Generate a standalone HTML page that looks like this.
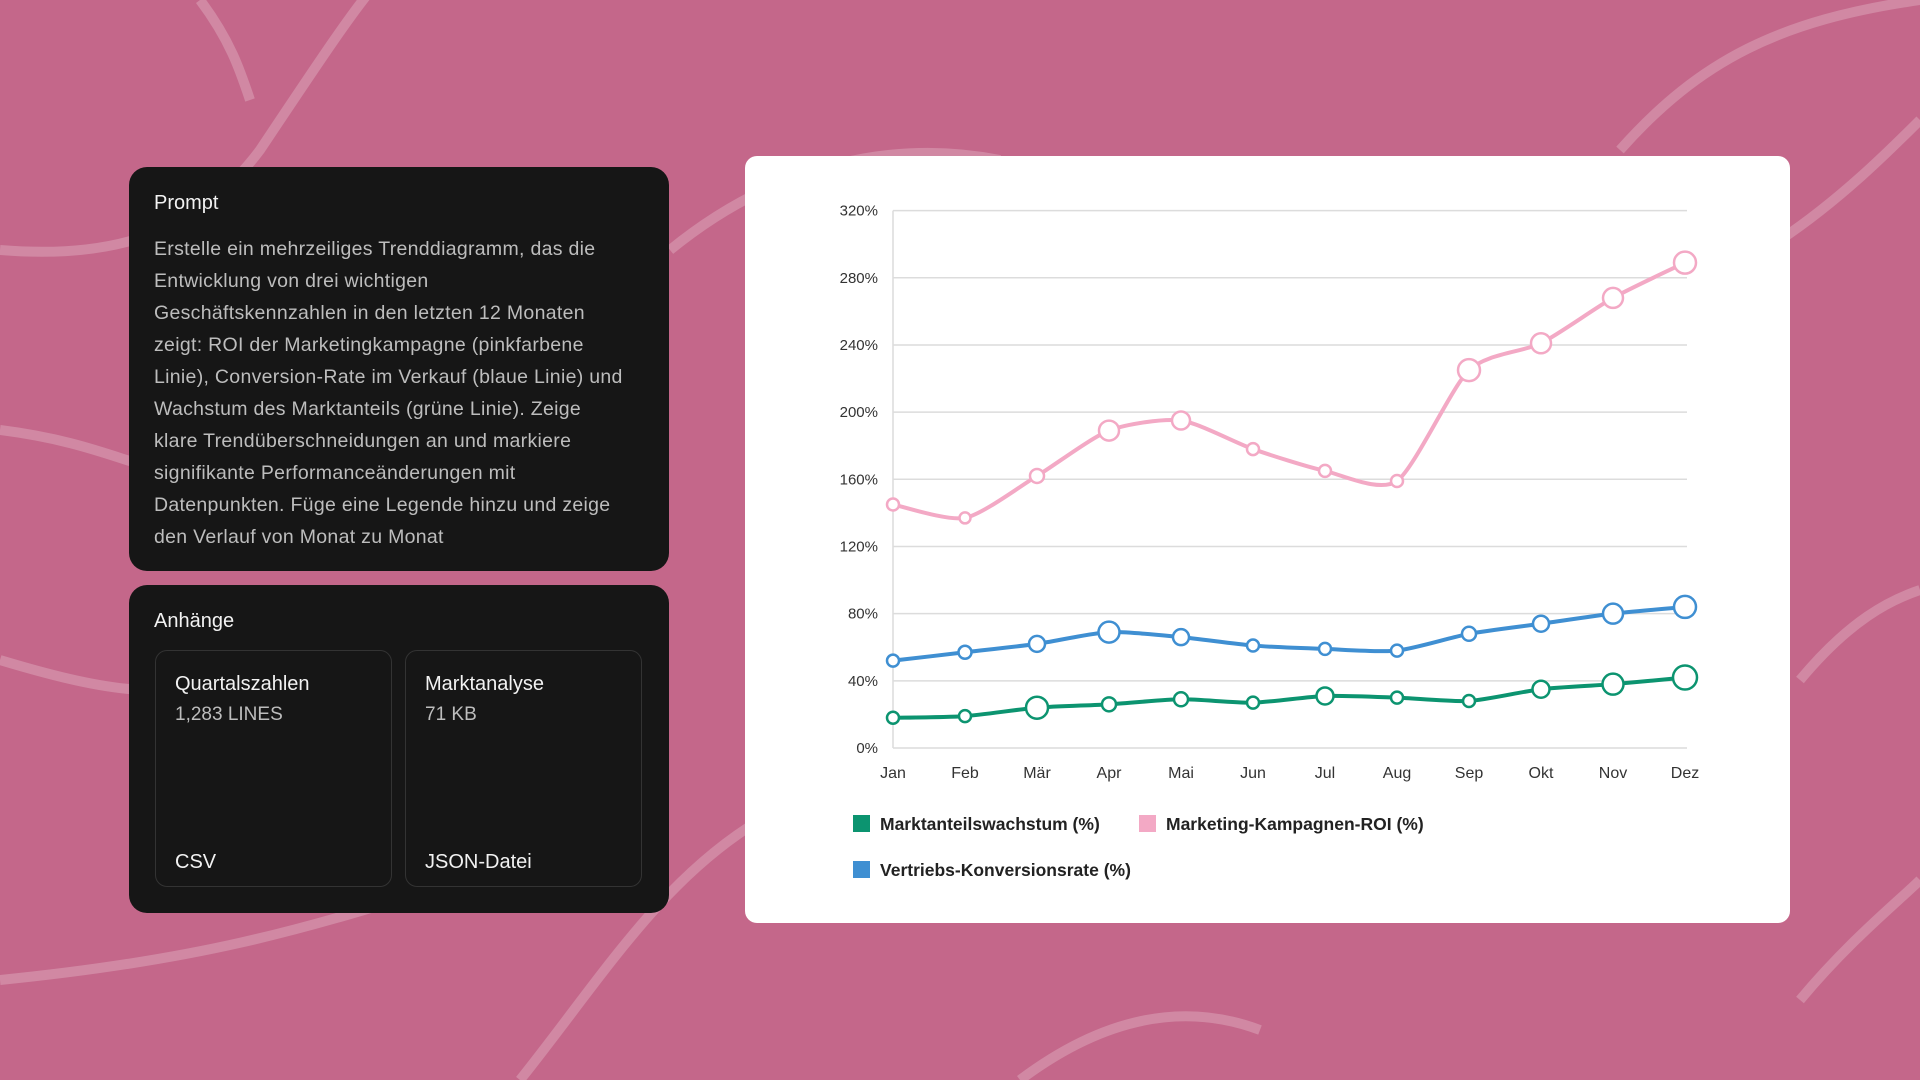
<!DOCTYPE html>
<html><head><meta charset="utf-8"><style>
*{margin:0;padding:0;box-sizing:border-box}
body{width:1920px;height:1080px;background:#c4678a;font-family:"Liberation Sans",sans-serif;position:relative;overflow:hidden}
.card{position:absolute;background:#161616;border-radius:18px;color:#fff}
.title{position:absolute;left:25px;font-size:20px;color:#f2f2f2}
.body{position:absolute;left:25px;top:66px;width:500px;font-size:19.5px;line-height:32px;color:#bdbdbd;letter-spacing:0.3px;white-space:nowrap}
.att{position:absolute;top:65px;width:237px;height:237px;border:1px solid #333;border-radius:12px}
.att .n{position:absolute;left:19px;top:22px;font-size:20px;color:#f2f2f2}
.att .s{position:absolute;left:19px;top:53px;font-size:19px;color:#bdbdbd}
.att .t{position:absolute;left:19px;bottom:12px;font-size:20px;color:#f2f2f2}
#chart{position:absolute;left:745px;top:156px;width:1045px;height:767px;background:#fff;border-radius:12px}
</style></head><body>
<svg style="position:absolute;left:0;top:0" width="1920" height="1080">
<g fill="none" stroke="rgba(255,255,255,0.22)" stroke-width="10">
<path d="M0 250 C120 260 200 230 260 150 C320 60 360 0 380 -20"/>
<path d="M520 1080 C600 980 660 880 760 820 C880 760 980 830 1100 900"/>
<path d="M670 250 C780 160 900 140 1000 160"/>
<path d="M1620 150 C1700 60 1780 20 1920 0"/>
<path d="M1780 240 C1840 200 1890 150 1920 120"/>
<path d="M0 660 C100 690 160 700 230 680"/>
<path d="M0 430 C80 440 120 460 160 470"/>
<path d="M0 980 C200 960 300 930 430 890"/>
<path d="M1020 1080 C1100 1020 1180 1000 1260 1030"/>
<path d="M1800 680 C1850 620 1890 600 1920 590"/>
<path d="M1800 1000 C1850 940 1900 900 1920 880"/>
<path d="M200 0 C230 40 240 70 250 100"/>
</g></svg>

<div class="card" style="left:129px;top:167px;width:540px;height:404px">
<div class="title" style="top:25px">Prompt</div>
<div class="body">Erstelle ein mehrzeiliges Trenddiagramm, das die<br>Entwicklung von drei wichtigen<br>Geschäftskennzahlen in den letzten 12 Monaten<br>zeigt: ROI der Marketingkampagne (pinkfarbene<br>Linie), Conversion-Rate im Verkauf (blaue Linie) und<br>Wachstum des Marktanteils (grüne Linie). Zeige<br>klare Trendüberschneidungen an und markiere<br>signifikante Performanceänderungen mit<br>Datenpunkten. Füge eine Legende hinzu und zeige<br>den Verlauf von Monat zu Monat</div>
</div>

<div class="card" style="left:129px;top:585px;width:540px;height:328px">
<div class="title" style="top:25px">Anhänge</div>
<div class="att" style="left:26px">
<div class="n">Quartalszahlen</div><div class="s">1,283 LINES</div><div class="t">CSV</div></div>
<div class="att" style="left:276px">
<div class="n">Marktanalyse</div><div class="s">71 KB</div><div class="t">JSON-Datei</div></div>
</div>

<div id="chart">
<svg id="svg" width="1045" height="767"></svg>
</div>

<script>
const months=["Jan","Feb","Mär","Apr","Mai","Jun","Jul","Aug","Sep","Okt","Nov","Dez"];
const roiValues=[145,137,162,189,195,178,165,159,225,241,268,289];
const conversionValues=[52,57,62,69,66,61,59,58,68,74,80,84];
const marketValues=[18,19,24,26,29,27,31,30,28,35,38,42];
const roiMarkers=[6,5.5,7,10,9,6,6,6,11,10,10,11];
const conversionMarkers=[6,6.5,8,10.5,8,6,6,6,7,8,10,11];
const marketMarkers=[6,6,11,7,7,6,8.5,6,6,8.5,10.5,12];
const yTicks=[0,40,80,120,160,200,240,280,320];
const yTickLabels=["0%","40%","80%","120%","160%","200%","240%","280%","320%"];

const NS="http://www.w3.org/2000/svg";
const svg=document.getElementById('svg');
const X0=148,X1=940,Y0=592,Y1=54.6;
const xs=i=>X0+(X1-X0)*i/(months.length-1);
const ys=v=>Y0-(Y0-Y1)*v/320;
function mk(t,a,p){const e=document.createElementNS(NS,t);for(const k in a)e.setAttribute(k,a[k]);(p||svg).appendChild(e);return e;}

yTicks.forEach((v,i)=>{
  const g=mk('line',{x1:X0,x2:X1+2,y1:ys(v),y2:ys(v),stroke:'#dcdcdc','stroke-width':1.5});
  
  
  const t=mk('text',{x:X0-15,y:ys(v)+5,'text-anchor':'end','font-size':15,fill:'#333','font-family':'Liberation Sans, sans-serif'});
  t.textContent=yTickLabels[i];
  
  
});
const ax=mk('line',{x1:X0,x2:X0,y1:Y1,y2:Y0,stroke:'#dcdcdc','stroke-width':1.5});


months.forEach((m,i)=>{
  const t=mk('text',{x:xs(i),y:622,'text-anchor':'middle','font-size':16,fill:'#333','font-family':'Liberation Sans, sans-serif'});
  t.textContent=m;
  
  
});

function smoothPath(vals){
  const p=vals.map((v,i)=>[xs(i),ys(v)]);
  let d=`M${p[0][0]},${p[0][1]}`;
  for(let i=0;i<p.length-1;i++){
    const p0=p[i-1]||p[i],p1=p[i],p2=p[i+1],p3=p[i+2]||p2,k=0.12;
    d+=` C${p1[0]+(p2[0]-p0[0])*k},${p1[1]+(p2[1]-p0[1])*k} ${p2[0]-(p3[0]-p1[0])*k},${p2[1]-(p3[1]-p1[1])*k} ${p2[0]},${p2[1]}`;
  }
  return d;
}
function series(vals,rad,color,name){
  const l=mk('path',{d:smoothPath(vals),fill:'none',stroke:color,'stroke-width':4,'stroke-linejoin':'round'});
  
  
  vals.forEach((v,i)=>{
    const c=mk('circle',{cx:xs(i),cy:ys(v),r:rad[i],fill:'#fff',stroke:color,'stroke-width':2.5});
    
    
  });
}
series(roiValues,roiMarkers,'#f3a9c5','roi');
series(conversionValues,conversionMarkers,'#3f8fd2','conversion');
series(marketValues,marketMarkers,'#0c9470','market-share');

const legend=[["Marktanteilswachstum (%)","#0c9470",108,668],["Marketing-Kampagnen-ROI (%)","#f3a9c5",394,668],["Vertriebs-Konversionsrate (%)","#3f8fd2",108,714]];
legend.forEach(([lbl,col,x,y])=>{
  const r=mk('rect',{x:x,y:y-9,width:17,height:17,fill:col});
  
  
  const t=mk('text',{x:x+27,y:y+6,'font-size':17.5,fill:'#222','font-weight':'bold','font-family':'Liberation Sans, sans-serif'});
  t.textContent=lbl;
  
  
});
</script>
</body></html>
